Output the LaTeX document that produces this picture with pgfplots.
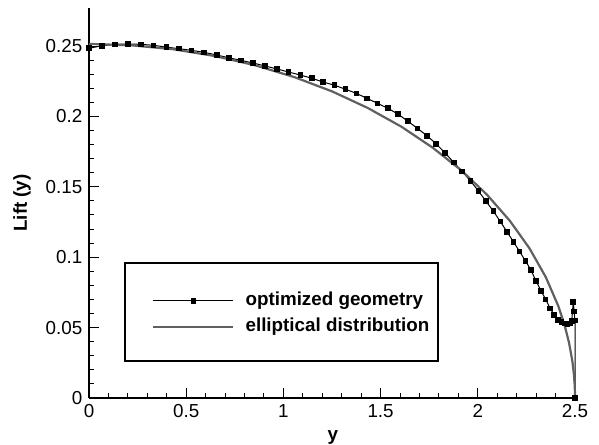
\documentclass[border=0pt]{standalone}
\usepackage{pgfplots}
\pgfplotsset{compat=1.18}
\usepackage{fontspec}
\setmainfont{Liberation Sans}
\definecolor{ellgray}{RGB}{96,96,96}
\begin{document}
\fontsize{9.4pt}{11pt}\selectfont
\begin{tikzpicture}
\begin{axis}[
  name=ax,
  scale only axis,
  width=243pt, height=195pt,
  xmin=0, xmax=2.5, ymin=0, ymax=0.277,
  axis x line=bottom, axis y line=left,
  axis line style={-, line width=0.6pt},
  tick align=inside,
  xtick={0,0.5,1,1.5,2,2.5},
  ytick={0,0.05,0.1,0.15,0.2,0.25},
  xticklabels={0,0.5,1,1.5,2,2.5},
  yticklabels={0,0.05,0.1,0.15,0.2,0.25},
  minor x tick num=4, minor y tick num=4,
  major tick length=5pt, minor tick length=2.7pt,
  every tick/.style={black, line width=0.5pt},
  tick label style={font=\fontsize{9.4pt}{11pt}\selectfont},
  xlabel={\textbf{y}}, ylabel={\textbf{Lift (y)}},
  label style={font=\fontsize{9.4pt}{11pt}\selectfont},
  xlabel style={at={(axis description cs:0.502,-0.1)}, anchor=center},
  ylabel style={at={(axis description cs:-0.1379,0.5)}, anchor=center},
  clip=false,
  legend cell align=left,
  legend image code/.code={\draw[mark repeat=2,mark phase=2,#1] plot coordinates {(0pt,0pt) (20pt,0pt) (40pt,0pt)};},
  legend style={draw=none, fill=none, inner sep=0pt, anchor=west,
    at={(axis cs:0.324,0.0597)}, column sep=5.5pt, row sep=4pt,
    nodes={inner sep=0pt, text height=7pt, text depth=2pt,
      font=\bfseries\fontsize{9.4pt}{11pt}\selectfont}},
]
\addplot[black, line width=0.5pt, mark=square*, mark size=1.15pt, mark options={solid}] coordinates {
(0.000,0.2484) (0.067,0.2502) (0.133,0.2512) (0.200,0.2514) (0.266,0.2512)
(0.332,0.2505) (0.398,0.2492) (0.463,0.2481) (0.528,0.2469) (0.592,0.2455)
(0.657,0.2436) (0.720,0.2416) (0.782,0.2398) (0.845,0.2379) (0.906,0.2358)
(0.967,0.2337) (1.027,0.2315) (1.087,0.2294) (1.146,0.2271) (1.204,0.2244)
(1.262,0.2222) (1.319,0.2193) (1.375,0.2164) (1.430,0.2128) (1.484,0.2093)
(1.537,0.2058) (1.589,0.2017) (1.640,0.1966) (1.690,0.1915) (1.739,0.1862)
(1.786,0.1805) (1.832,0.1740) (1.877,0.1672) (1.920,0.1608) (1.962,0.1542)
(2.003,0.1471) (2.042,0.1398) (2.080,0.1327) (2.116,0.1253) (2.150,0.1181)
(2.184,0.1108) (2.215,0.1040) (2.245,0.0975) (2.273,0.0909) (2.300,0.0830)
(2.325,0.0762) (2.349,0.0701) (2.372,0.0637) (2.393,0.0590) (2.413,0.0556)
(2.431,0.0538) (2.447,0.0530) (2.461,0.0525) (2.473,0.0530) (2.483,0.0545)
(2.491,0.0680) (2.496,0.0615) (2.499,0.0550) (2.500,0.0550) (2.500,0.0)
};
\addlegendentry{optimized geometry}
\addplot[ellgray, line width=1.1pt, no markers] coordinates {
(0.0000,0.2515) (0.2179,0.2505) (0.4341,0.2477) (0.6470,0.2429) (0.8551,0.2363)
(1.0565,0.2279) (1.2500,0.2178) (1.4339,0.2060) (1.6070,0.1927) (1.7678,0.1778)
(1.9151,0.1617) (2.0479,0.1443) (2.1651,0.1258) (2.2658,0.1063) (2.3492,0.0860)
(2.4148,0.0651) (2.4454,0.0523) (2.4692,0.0393) (2.4863,0.0263) (2.4939,0.0175)
(2.4985,0.0088) (2.4996,0.0044) (2.5000,0.0000)
};
\addlegendentry{elliptical distribution}
\draw[black, line width=0.6pt] (axis cs:0.185,0.0263) rectangle (axis cs:1.795,0.0959);
\end{axis}
\pgfresetboundingbox
\useasboundingbox (-44.5pt,-23pt) rectangle (255pt,199pt);
\end{tikzpicture}
\end{document}
